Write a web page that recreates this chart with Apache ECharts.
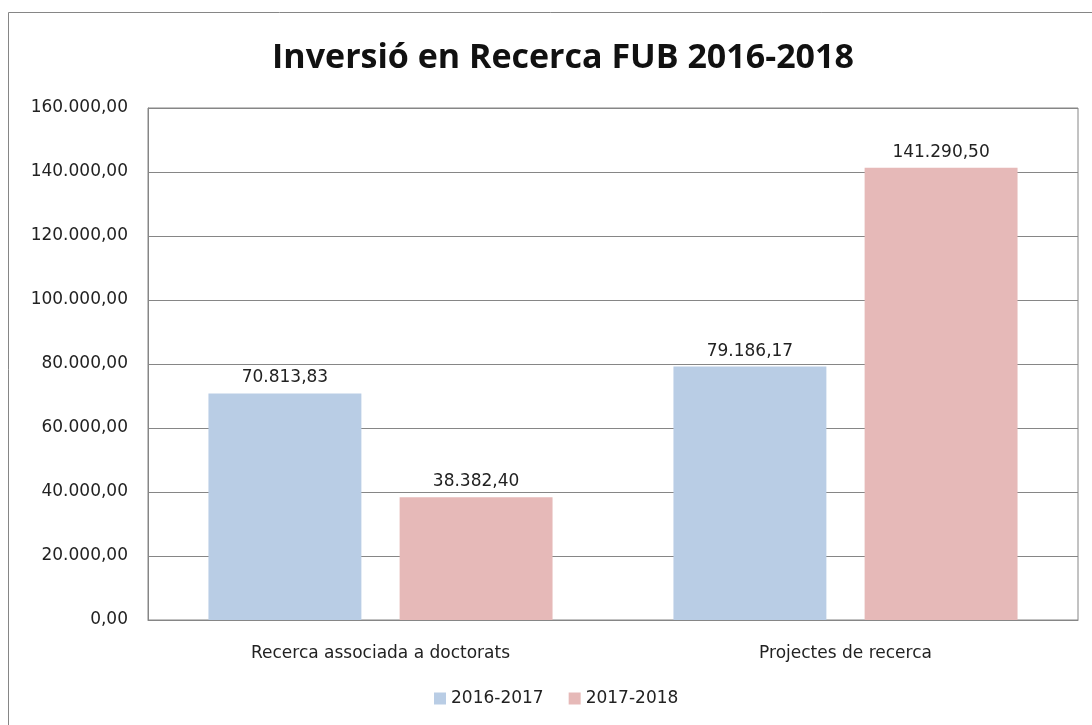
<!DOCTYPE html>
<html>
<head>
<meta charset="utf-8">
<script src="https://cdn.jsdelivr.net/npm/echarts@6/dist/echarts.min.js"></script>
<style>
  html, body { margin: 0; padding: 0; background: #fff; }
  #main { width: 1092px; height: 725px; }
</style>
</head>
<body>
<div id="main"></div>
<script>
// chart data
var categories = ["Recerca associada a doctorats", "Projectes de recerca"];
var seriesNames = ["2016-2017", "2017-2018"];
var values2016 = [70813.83, 79186.17];
var values2017 = [38382.40, 141290.50];

function fmt(v) {
  var parts = v.toFixed(2).split(".");
  var intPart = parts[0].replace(/\B(?=(\d{3})+(?!\d))/g, ".");
  return intPart + "," + parts[1];
}

var txt = { fontFamily: "DejaVu Sans", fontSize: 17, color: "#222" };

var chartDom = document.getElementById("main");
var myChart = echarts.init(chartDom, null, { renderer: "canvas" });

var option = {
  backgroundColor: "#fff",
  animation: false,
  title: {
    text: "Inversió en Recerca FUB 2016-2018",
    left: 558,
    top: 36,
    textAlign: "center",
    textStyle: {
      fontFamily: "Open Sans",
      fontSize: 34,
      fontWeight: "bold",
      color: "#111",
    },
  },
  graphic: [
    {
      type: "rect",
      shape: { x: 8.5, y: 12.5, width: 1200, height: 800 },
      style: { fill: "none", stroke: "#868686", lineWidth: 1 },
      silent: true,
    },
  ],
  legend: {
    bottom: 13,
    left: 429,
    itemWidth: 12,
    itemHeight: 12,
    itemGap: 25,
    icon: "rect",
    textStyle: txt,
    data: seriesNames,
  },
  grid: {
    left: 148,
    right: 14,
    top: 108,
    bottom: 105,
    show: true,
    borderColor: "#868686",
    borderWidth: 1,
  },
  xAxis: {
    type: "category",
    data: categories,
    axisLine: { show: true, lineStyle: { color: "#868686" } },
    axisTick: { show: false },
    axisLabel: Object.assign({ margin: 25 }, txt),
  },
  yAxis: {
    type: "value",
    min: 0,
    max: 160000,
    interval: 20000,
    axisLine: { show: true, lineStyle: { color: "#868686" } },
    axisTick: { show: false },
    splitLine: { lineStyle: { color: "#868686" } },
    axisLabel: Object.assign({ margin: 20, formatter: fmt }, txt),
  },
  series: [
    {
      name: seriesNames[0],
      type: "bar",
      data: values2016,
      barGap: "25%",
      barCategoryGap: "26%",
      itemStyle: { color: "#b9cde5" },
      label: Object.assign({
        show: true,
        position: "top",
        distance: 7,
        formatter: function (p) { return fmt(p.value); },
      }, txt),
    },
    {
      name: seriesNames[1],
      type: "bar",
      data: values2017,
      barGap: "25%",
      barCategoryGap: "26%",
      itemStyle: { color: "#e6b9b8" },
      label: Object.assign({
        show: true,
        position: "top",
        distance: 7,
        formatter: function (p) { return fmt(p.value); },
      }, txt),
    },
  ],
};

option && myChart.setOption(option);
</script>
</body>
</html>
